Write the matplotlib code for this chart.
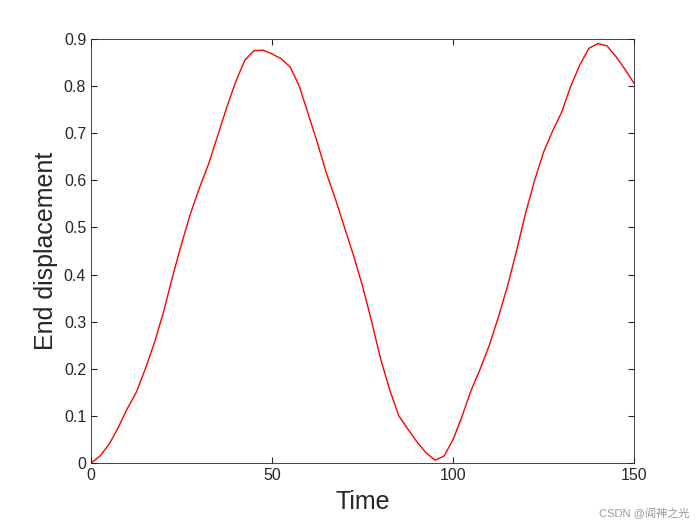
import matplotlib
matplotlib.use("Agg")
import matplotlib.pyplot as plt

plt.rcParams['font.family'] = ['Liberation Sans', 'Noto Sans CJK SC', 'DejaVu Sans']

# values
time = [0, 2.5, 5, 7.5, 10, 12.5, 15, 17.5, 20, 22.5, 25, 27.5, 30, 32.5, 35, 37.5, 40,
        42.5, 45, 47.5, 50, 52.5, 55, 57.5, 60, 62.5, 65, 67.5, 70, 72.5, 75, 77.5, 80,
        82.5, 85, 87.5, 90, 92.5, 95, 97.5, 100, 102.5, 105, 107.5, 110, 112.5, 115,
        117.5, 120, 122.5, 125, 127.5, 130, 132.5, 135, 137.5, 140, 142.5, 145, 147.5, 150]
disp = [0.0, 0.015, 0.04, 0.075, 0.115, 0.15, 0.2, 0.255, 0.32, 0.395, 0.465, 0.53, 0.585,
        0.635, 0.695, 0.755, 0.81, 0.855, 0.875, 0.876, 0.868, 0.858, 0.84, 0.8, 0.74,
        0.68, 0.615, 0.56, 0.5, 0.44, 0.375, 0.3, 0.22, 0.155, 0.1, 0.072, 0.045, 0.022,
        0.006, 0.015, 0.05, 0.1, 0.155, 0.2, 0.25, 0.31, 0.375, 0.45, 0.53, 0.6, 0.66,
        0.705, 0.745, 0.8, 0.845, 0.88, 0.89, 0.885, 0.862, 0.835, 0.805]

fig = plt.figure(figsize=(7, 5.25), dpi=100)
ax = fig.add_axes([0.130, 0.118, 0.776, 0.808])
ax.plot(time, disp, color='red', linewidth=1)
ax.set_xlim(0, 150)
ax.set_ylim(0, 0.9)
ax.set_xticks([0, 50, 100, 150])
ax.set_yticks([i / 10 for i in range(10)])
ax.set_yticklabels(['0'] + ['%.1f' % (i / 10) for i in range(1, 10)])
ax.tick_params(direction='in', top=True, right=True, labelsize=11.5, length=4,
               labelcolor='#262626', color='#262626')
ax.set_xlabel('Time', fontsize=18, labelpad=5, color='#262626')
ax.set_ylabel('End displacement', fontsize=18, color='#262626')
for s in ax.spines.values():
    s.set_linewidth(0.6)
    s.set_color('#262626')
fig.text(0.985, 0.012, 'CSDN @阎神之光', ha='right', va='bottom', fontsize=8, color='#999999')
fig.savefig('out.png')
